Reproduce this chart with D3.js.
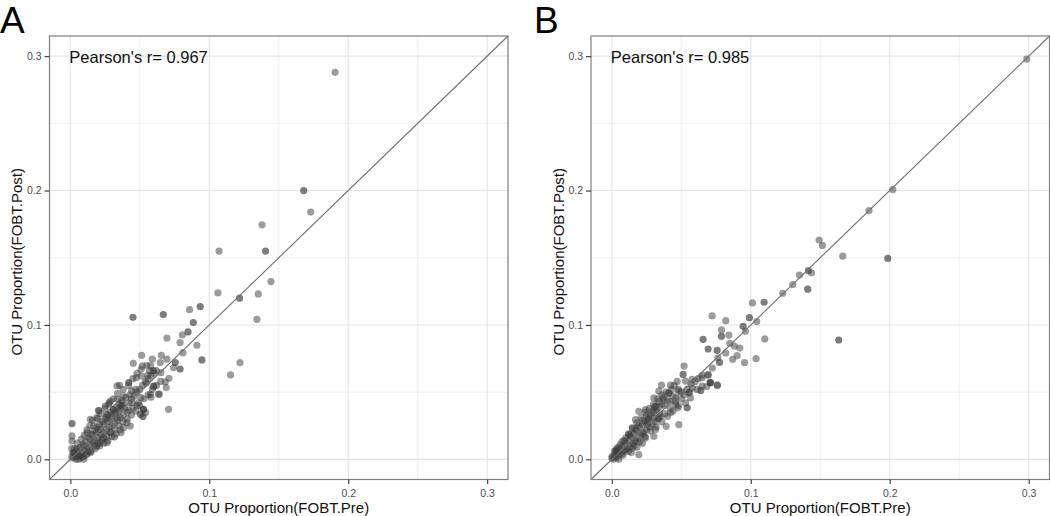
<!DOCTYPE html>
<html>
<head>
<meta charset="utf-8">
<script src="https://cdn.jsdelivr.net/npm/d3@7"></script>
<style>
  html, body { margin: 0; padding: 0; background: #fff; }
  svg { display: block; font-family: "Liberation Sans", Arial, Helvetica, sans-serif; }
</style>
</head>
<body>
<svg id="chart" width="1050" height="516"></svg>
<script>
// ---------- data ----------
const panelLabels = ["A", "B"];
const pearsonR = ["0.967", "0.985"];
const tickValues = [0.0, 0.1, 0.2, 0.3];
const minorTickValues = [0.05, 0.15, 0.25];
const xTitle = "OTU Proportion(FOBT.Pre)";
const yTitle = "OTU Proportion(FOBT.Post)";

// [FOBT.Pre, FOBT.Post, tone (0 = light, 1 = dark)]
const pointsA = [
  [0.1906,0.288,0],[0.168,0.200,1],[0.173,0.184,0],[0.138,0.1745,0],[0.107,0.155,0],[0.1405,0.155,1],
  [0.1444,0.1323,0],[0.1062,0.1238,0],[0.1353,0.1231,0],[0.1218,0.1199,1],[0.1343,0.1042,0],
  [0.0858,0.1114,0],[0.0935,0.1137,1],[0.0885,0.1018,1],[0.0806,0.0926,0],[0.0847,0.0948,1],
  [0.079,0.0869,0],[0.0911,0.0849,0],[0.081,0.0794,0],[0.0947,0.074,1],[0.1221,0.072,0],
  [0.1153,0.0628,0],[0.079,0.0672,1],[0.0451,0.1057,1],[0.0669,0.1077,1],[0.0695,0.0903,0],
  [0.0513,0.0774,0],[0.0655,0.0774,0],[0.059,0.0745,0],[0.0453,0.0715,0],[0.0518,0.0695,0],
  [0.0647,0.072,0],[0.0695,0.0745,0],[0.0755,0.072,1],[0.0578,0.0695,0],[0.0743,0.0683,0],
  [0.057,0.0658,0],[0.0597,0.066,1],[0.0556,0.0625,0],[0.0511,0.062,0],[0.0652,0.0645,0],
  [0.071,0.0603,0],[0.0683,0.0576,0],[0.069,0.0534,0],[0.042,0.0571,1],[0.0475,0.0608,0],
  [0.0355,0.0551,0],[0.0547,0.0566,0],[0.06,0.0541,0],[0.064,0.0486,0],[0.058,0.0462,0],
  [0.0707,0.0372,0],[0.0441,0.0509,0],[0.0508,0.0459,0],[0.0384,0.0471,0],[0.0288,0.0434,0],
  [0.0338,0.0447,0],[0.0444,0.0422,0],[0.048,0.0402,0],[0.0523,0.0372,0],[0.0504,0.0335,1],
  [0.0542,0.0348,0],[0.0523,0.0318,1],[0.042,0.0367,0],[0.0372,0.0392,0],[0.0252,0.0397,0],
  [0.0204,0.0365,0],[0.0307,0.0372,0],[0.0197,0.0305,0],[0.0264,0.0335,0],[0.0336,0.031,0],
  [0.0408,0.0273,0],[0.0384,0.0236,0],[0.0317,0.0166,0],[0.0365,0.0199,0],[0.0432,0.0248,0],
  [0.0012,0.0266,1],[0.0012,0.0174,0],[0.0012,0.0136,0],[0.012,0.0199,0],[0.0168,0.0248,0],
  [0.0144,0.0149,0],[0.0216,0.0223,0],[0.0096,0.0099,0],[0.024,0.0162,0],[0.0192,0.0099,0],
  [0.0048,0.0074,0],[0.0072,0.0025,0],[0.0024,0.005,0],[0.0144,0.005,0],[0.0096,0.0,0],
  [0.0216,0.0124,0],[0.0288,0.0199,0],[0.0264,0.0124,0],[0.0336,0.0546,0],[0.06,0.0546,0],
  [0.0635,0.0484,0],[0.0576,0.0484,0],[0.0527,0.0372,1],[0.0372,0.0422,0],[0.0276,0.041,0],
  [0.0204,0.036,0],[0.0144,0.0298,0],
  [0.001,0.002,0],[0.002,0.001,0],[0.003,0.004,0],[0.004,0.002,0],[0.005,0.006,0],[0.006,0.003,0],
  [0.007,0.009,0],[0.008,0.005,0],[0.009,0.011,0],[0.010,0.007,0],[0.011,0.013,0],[0.012,0.009,0],
  [0.013,0.016,0],[0.014,0.011,0],[0.015,0.019,0],[0.016,0.013,0],[0.017,0.021,0],[0.018,0.014,0],
  [0.019,0.024,0],[0.020,0.016,0],[0.021,0.026,0],[0.022,0.018,0],[0.023,0.028,0],[0.024,0.020,0],
  [0.025,0.030,0],[0.026,0.022,0],[0.027,0.033,0],[0.028,0.024,0],[0.029,0.035,0],[0.030,0.025,0],
  [0.031,0.037,0],[0.032,0.027,0],[0.033,0.039,0],[0.034,0.029,0],[0.035,0.041,0],[0.036,0.031,0],
  [0.037,0.044,0],[0.038,0.033,0],[0.040,0.046,0],[0.041,0.035,0],[0.043,0.048,0],[0.045,0.038,0],
  [0.047,0.052,0],[0.049,0.042,0],[0.003,0.008,0],[0.005,0.012,0],[0.008,0.015,0],[0.010,0.018,0],
  [0.012,0.022,0],[0.006,0.000,0],[0.009,0.002,0],[0.012,0.004,0],[0.015,0.006,0],[0.018,0.008,0],
  [0.021,0.010,0],[0.024,0.012,0],[0.027,0.014,0],[0.030,0.017,0],[0.033,0.019,0],[0.036,0.022,0],
  [0.014,0.025,0],[0.016,0.029,0],[0.019,0.031,0],[0.022,0.034,0],[0.025,0.038,0],[0.028,0.042,0],
  [0.031,0.045,0],[0.034,0.049,0],[0.013,0.006,0],[0.017,0.010,0],[0.020,0.012,0],[0.023,0.015,0],
  [0.026,0.017,0],[0.029,0.020,0],[0.032,0.022,0],[0.035,0.025,0],[0.038,0.028,0],[0.041,0.030,0],
  [0.044,0.033,0],[0.039,0.038,0],[0.042,0.042,0],[0.044,0.045,0],[0.046,0.047,0],[0.048,0.050,0],
  [0.050,0.052,0],[0.052,0.055,0],[0.054,0.058,0],[0.056,0.060,0],[0.058,0.062,0],[0.060,0.064,0],
  [0.062,0.066,0],[0.042,0.055,0],[0.045,0.060,0],[0.048,0.064,0],[0.038,0.052,0],[0.051,0.067,0],
  [0.055,0.070,0],[0.047,0.036,0],[0.050,0.040,0],[0.053,0.045,0],[0.056,0.048,0],[0.059,0.052,0],
  [0.062,0.055,0],[0.065,0.058,0],[0.004,0.000,0],[0.002,0.005,0],[0.001,0.008,0],[0.007,0.001,0],
  [0.011,0.003,0],[0.016,0.018,0],[0.019,0.020,0],[0.024,0.026,0],[0.027,0.028,0],[0.030,0.032,0],
  [0.033,0.035,0],[0.036,0.038,0],[0.020,0.022,0],[0.026,0.031,0],[0.029,0.030,0],[0.032,0.034,0],
  [0.035,0.036,0],[0.037,0.040,0]
];

const pointsB = [
  [0.2986,0.2978,0],[0.2022,0.2007,0],[0.1851,0.1851,0],[0.1492,0.1632,0],[0.1516,0.1592,0],
  [0.1662,0.1512,0],[0.1986,0.1495,1],[0.1415,0.1405,1],[0.1437,0.1388,0],[0.135,0.1371,0],
  [0.1302,0.1301,0],[0.141,0.1266,1],[0.123,0.1236,0],[0.1012,0.1164,0],[0.1096,0.1169,1],
  [0.0722,0.1067,0],[0.082,0.1032,0],[0.099,0.1054,1],[0.1043,0.1025,0],[0.0945,0.099,1],
  [0.0962,0.0953,0],[0.0789,0.0963,0],[0.0789,0.0916,1],[0.0842,0.0925,0],[0.0657,0.0893,1],
  [0.1101,0.0896,0],[0.1633,0.0888,1],[0.0849,0.0863,0],[0.0883,0.0843,0],[0.0921,0.0828,0],
  [0.0693,0.0821,1],[0.0758,0.0811,1],[0.082,0.0791,0],[0.0902,0.0771,0],[0.0763,0.0756,0],
  [0.0775,0.0721,1],[0.087,0.0744,0],[0.0955,0.0719,0],[0.1038,0.0749,0],[0.0724,0.0679,0],
  [0.0693,0.0625,0],[0.065,0.0607,0],[0.0707,0.0572,1],[0.076,0.0552,0],[0.0683,0.0542,0],
  [0.064,0.0513,1],[0.052,0.0694,0],[0.0513,0.0632,1],[0.0357,0.0552,0],[0.0422,0.0552,0],
  [0.053,0.0582,0],[0.0578,0.0595,0],[0.065,0.0627,0],[0.0693,0.0632,0],[0.071,0.0569,1],
  [0.0758,0.0552,0],[0.065,0.0545,0],[0.0614,0.052,0],[0.0338,0.0507,0],[0.041,0.0495,0],
  [0.0482,0.0507,0],[0.0554,0.0495,0],[0.0302,0.0457,0],[0.0374,0.0446,0],[0.0458,0.0433,0],
  [0.053,0.042,0],[0.0566,0.0457,0],[0.0542,0.0383,1],[0.0475,0.0383,0],[0.0422,0.0346,0],
  [0.0482,0.0259,0],[0.0391,0.0246,0],[0.0194,0.0358,0],[0.0242,0.0371,0],[0.0314,0.0396,0],
  [0.017,0.0296,0],[0.0266,0.0308,0],[0.0338,0.0308,0],[0.0314,0.0222,0],[0.0302,0.0172,0],
  [0.0242,0.0159,0],[0.0146,0.0234,0],[0.0122,0.0184,0],[0.017,0.0134,0],[0.0074,0.0134,0],
  [0.0098,0.0072,0],[0.0026,0.006,0],[0.0002,0.0022,0],[0.005,0.0,0],[0.0038,0.0084,0],
  [0.0194,0.0035,0],[0.0146,0.0084,0],[0.0218,0.0196,0],[0.0254,0.0259,0],
  [0.000,0.001,0],[0.001,0.000,0],[0.002,0.003,0],[0.003,0.001,0],[0.004,0.005,0],[0.005,0.003,0],
  [0.006,0.007,0],[0.007,0.004,0],[0.008,0.010,0],[0.009,0.006,0],[0.010,0.012,0],[0.011,0.008,0],
  [0.012,0.014,0],[0.013,0.010,0],[0.014,0.017,0],[0.015,0.012,0],[0.016,0.019,0],[0.017,0.014,0],
  [0.018,0.021,0],[0.019,0.016,0],[0.020,0.024,0],[0.021,0.018,0],[0.022,0.026,0],[0.023,0.020,0],
  [0.024,0.028,0],[0.025,0.022,0],[0.026,0.030,0],[0.027,0.024,0],[0.028,0.033,0],[0.029,0.026,0],
  [0.030,0.035,0],[0.031,0.028,0],[0.032,0.037,0],[0.033,0.030,0],[0.034,0.039,0],[0.035,0.032,0],
  [0.036,0.041,0],[0.038,0.034,0],[0.040,0.044,0],[0.042,0.038,0],[0.044,0.047,0],[0.046,0.041,0],
  [0.048,0.052,0],[0.050,0.045,0],[0.003,0.007,0],[0.006,0.011,0],[0.009,0.014,0],[0.012,0.019,0],
  [0.015,0.023,0],[0.018,0.027,0],[0.021,0.031,0],[0.024,0.035,0],[0.027,0.038,0],[0.030,0.041,0],
  [0.033,0.045,0],[0.036,0.048,0],[0.039,0.050,0],[0.008,0.003,0],[0.012,0.006,0],[0.016,0.010,0],
  [0.020,0.013,0],[0.024,0.017,0],[0.028,0.021,0],[0.032,0.024,0],[0.036,0.028,0],[0.040,0.032,0],
  [0.044,0.036,0],[0.002,0.006,0],[0.005,0.009,0],[0.010,0.016,0],[0.013,0.018,0],[0.017,0.022,0],
  [0.019,0.025,0],[0.022,0.029,0],[0.025,0.033,0],[0.029,0.036,0],[0.031,0.039,0],[0.034,0.043,0],
  [0.037,0.046,0],[0.041,0.049,0],[0.043,0.052,0],[0.045,0.055,0],[0.047,0.058,0],[0.026,0.028,0],
  [0.030,0.031,0],[0.034,0.034,0],[0.038,0.040,0],[0.042,0.043,0],[0.046,0.046,0],[0.050,0.050,0],
  [0.054,0.052,0],[0.057,0.056,0],[0.060,0.058,0],[0.052,0.048,0],[0.056,0.050,0],[0.048,0.040,0],
  [0.058,0.053,0],[0.062,0.060,0],[0.014,0.005,0],[0.018,0.009,0],[0.022,0.012,0]
];

// ---------- layout ----------
const svg = d3.select("#chart");
const domain = [-0.015, 0.315];
const panelW = 458.5, panelTop = 36, panelBottom = 479.5;
const panelLefts = [49.5, 591];
const letterX = [0, 534];
const allPoints = [pointsA, pointsB];

const toneOpacity = d3.scaleOrdinal().domain([0, 1]).range([0.5, 0.66]);
const fmt = d3.format(".1f");

panelLabels.forEach((lab, i) => {
  const left = panelLefts[i];
  const x = d3.scaleLinear().domain(domain).range([left, left + panelW]);
  const y = d3.scaleLinear().domain(domain).range([panelBottom, panelTop]);
  const g = svg.append("g");

  g.append("rect").attr("x", left).attr("y", panelTop)
    .attr("width", panelW).attr("height", panelBottom - panelTop).attr("fill", "#fff");

  // minor grid
  g.selectAll(".vminor").data(minorTickValues).enter().append("line")
    .attr("x1", d => x(d)).attr("x2", d => x(d)).attr("y1", panelTop).attr("y2", panelBottom)
    .attr("stroke", "#f0f0f0").attr("stroke-width", 1);
  g.selectAll(".hminor").data(minorTickValues).enter().append("line")
    .attr("y1", d => y(d)).attr("y2", d => y(d)).attr("x1", left).attr("x2", left + panelW)
    .attr("stroke", "#f0f0f0").attr("stroke-width", 1);
  // major grid
  g.selectAll(".vmajor").data(tickValues).enter().append("line")
    .attr("x1", d => x(d)).attr("x2", d => x(d)).attr("y1", panelTop).attr("y2", panelBottom)
    .attr("stroke", "#e4e4e4").attr("stroke-width", 1.1);
  g.selectAll(".hmajor").data(tickValues).enter().append("line")
    .attr("y1", d => y(d)).attr("y2", d => y(d)).attr("x1", left).attr("x2", left + panelW)
    .attr("stroke", "#e4e4e4").attr("stroke-width", 1.1);

  // points
  g.selectAll(".pt").data(allPoints[i]).enter().append("circle")
    .attr("cx", d => x(d[0])).attr("cy", d => y(d[1])).attr("r", 3.6)
    .attr("fill", "#3a3a3a").attr("fill-opacity", d => toneOpacity(d[2]));

  // identity line
  g.append("line")
    .attr("x1", x(domain[0])).attr("y1", y(domain[0]))
    .attr("x2", x(domain[1])).attr("y2", y(domain[1]))
    .attr("stroke", "#6f6f6f").attr("stroke-width", 1.1);

  // border
  g.append("rect").attr("x", left).attr("y", panelTop)
    .attr("width", panelW).attr("height", panelBottom - panelTop)
    .attr("fill", "none").attr("stroke", "#7f7f7f").attr("stroke-width", 1.2);

  // axes
  const xa = g.append("g").attr("transform", `translate(0,${panelBottom})`)
    .call(d3.axisBottom(x).tickValues(tickValues).tickFormat(fmt).tickSize(4.5).tickPadding(6));
  const ya = g.append("g").attr("transform", `translate(${left},0)`)
    .call(d3.axisLeft(y).tickValues(tickValues).tickFormat(fmt).tickSize(5).tickPadding(3));
  [xa, ya].forEach(a => {
    a.select(".domain").remove();
    a.selectAll(".tick line").attr("stroke", "#333").attr("stroke-width", 1.1);
    a.selectAll(".tick text").attr("fill", "#4d4d4d")
      .style("font-size", "10.5px").style("font-family", "'Liberation Sans', Arial, sans-serif");
  });

  // titles
  g.append("text").attr("x", left + panelW / 2).attr("y", 513)
    .attr("text-anchor", "middle").attr("fill", "#111").style("font-size", "15px")
    .text(xTitle);
  g.append("text").attr("transform", `translate(${left - 27.5},${(panelTop + panelBottom) / 2 + 4}) rotate(-90)`)
    .attr("text-anchor", "middle").attr("fill", "#111").style("font-size", "15px")
    .text(yTitle);

  // annotation
  g.append("text").attr("x", x(0) - 1).attr("y", 63)
    .attr("fill", "#111").style("font-size", "16.5px")
    .text("Pearson's r= " + pearsonR[i]);

  // panel letter
  svg.append("text").attr("x", letterX[i]).attr("y", 33)
    .attr("fill", "#000").style("font-size", "37px")
    .text(lab);
});
</script>
</body>
</html>
